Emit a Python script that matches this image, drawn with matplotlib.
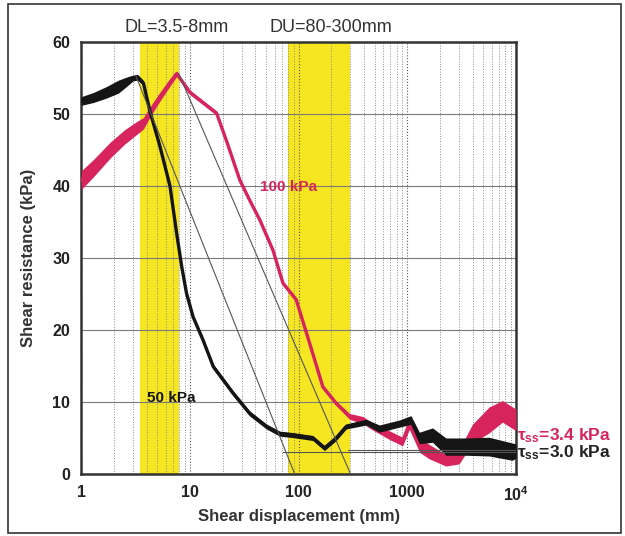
import numpy as np
import matplotlib
matplotlib.use("Agg")
import matplotlib.pyplot as plt
from matplotlib.patches import Rectangle

# posun (mm) a smykovy odpor (kPa) odectene z obrazku, pas = polovicni sirka sumu
x_100 = [1, 1.3, 1.85, 2.5, 3.2, 3.73, 4.3, 5.3, 6.5, 7.55, 8.5, 10, 12.4, 17.6,
         22, 28.8, 35.5, 43.9, 58, 71.8, 95, 126, 167, 222, 294, 387, 481, 684,
         906, 1043, 1300, 1592, 2265, 3000, 3970, 5650, 7500, 10000]
tau_100 = [40.8, 42.5, 45, 46.8, 48, 48.7, 50.3, 52.4, 54.3, 55.6, 54.5, 53,
           51.9, 50.1, 46, 40.8, 38, 35.3, 31.1, 26.5, 24.2, 18.2, 12.1, 9.8,
           8.0, 7.5, 6.6, 5.4, 4.5, 7.0, 4.0, 3.1, 1.9, 2.4, 5.6, 7.5, 8.7, 7.5]
band_100 = [1.3, 1.2, 1.1, 1.0, 0.9, 0.8, 0.7, 0.6, 0.5, 0.4, 0.3, 0.3, 0.3, 0.3,
            0.3, 0.3, 0.3, 0.3, 0.3, 0.3, 0.3, 0.3, 0.3, 0.3, 0.4, 0.5, 0.5, 0.6,
            0.6, 0.8, 1.0, 1.0, 0.8, 1.0, 1.3, 1.8, 1.5, 1.5]

x_50 = [1, 1.3, 1.7, 2.2, 2.7, 3.0, 3.3, 3.73, 4.3, 5.3, 6.55, 7.55, 8.4, 9.3,
        10.7, 13.2, 16.4, 25, 35.5, 50.5, 67, 88.7, 135, 173, 222, 274, 418,
        553, 845, 1081, 1290, 1707, 2265, 3450, 5650, 9250, 10000]
tau_50 = [51.8, 52.3, 53, 53.8, 54.6, 55, 55.1, 54.3, 50.3, 45.5, 40, 33.4,
          28.8, 25.1, 21.8, 18.6, 14.9, 11.2, 8.4, 6.6, 5.6, 5.4, 5.0, 3.6,
          5.0, 6.6, 7.2, 6.3, 7.0, 7.5, 5.0, 5.4, 3.8, 3.8, 3.8, 3.1, 3.2]
band_50 = [0.6, 0.7, 0.8, 0.9, 0.6, 0.4, 0.4, 0.35, 0.35, 0.35, 0.35, 0.35,
           0.35, 0.35, 0.35, 0.35, 0.35, 0.35, 0.35, 0.35, 0.35, 0.35, 0.35,
           0.35, 0.35, 0.35, 0.4, 0.5, 0.5, 0.6, 0.8, 1.0, 1.2, 1.2, 1.3, 1.2, 1.0]

# oblasti DL a DU (mm)
dl_range = [3.5, 8]
du_range = [80, 300]

# pomocne primky od vrcholu k nule a ustalene hodnoty
peak_line_50 = ([3.2, 92], [55.2, 0])
peak_line_100 = ([7.9, 300], [55.6, 0])
tau_ss_100 = 3.4
tau_ss_50 = 3.0
ss_start_100 = 285
ss_start_50 = 72

y_ticks = [0, 10, 20, 30, 40, 50, 60]
x_ticks = [1, 10, 100, 1000, 10000]
x_ticklabels = ["1", "10", "100", "1000", r"10$^{4}$"]

RED = "#d8245c"
BLACK = "#151515"
YELLOW = "#f6e622"


def plot_shear(fig_location="out.png"):
    plt.rcParams["font.family"] = ["Liberation Sans", "DejaVu Sans"]
    plt.rcParams["mathtext.fontset"] = "custom"
    plt.rcParams["mathtext.rm"] = "Liberation Sans:bold"
    plt.rcParams["mathtext.bf"] = "Liberation Sans:bold"
    plt.rcParams["mathtext.it"] = "Liberation Sans:bold"
    fig = plt.figure(figsize=(6.25, 5.36), dpi=100)
    ax = fig.add_axes([0.13, 0.1157, 0.6956, 0.806])

    # zlute pasy
    ax.axvspan(*dl_range, color=YELLOW, lw=0, zorder=0.2)
    ax.axvspan(*du_range, color=YELLOW, lw=0, zorder=0.2)

    # krivky (nejdriv 100 kPa, pak 50 kPa navrch)
    x1, y1, b1 = np.array(x_100), np.array(tau_100), np.array(band_100)
    ax.fill_between(x1, y1 - b1, y1 + b1, color=RED, lw=0, zorder=3)
    ax.plot(x1, y1, color=RED, lw=2.4, zorder=3)
    x2, y2, b2 = np.array(x_50), np.array(tau_50), np.array(band_50)
    ax.fill_between(x2, y2 - b2, y2 + b2, color=BLACK, lw=0, zorder=4)
    ax.plot(x2, y2, color=BLACK, lw=2.4, zorder=4)

    # tenke primky
    ax.plot(*peak_line_50, color="#555555", lw=0.8, zorder=5)
    ax.plot(*peak_line_100, color="#555555", lw=0.8, zorder=5)
    ax.plot([ss_start_100, 1e4], [tau_ss_100, tau_ss_100], color="#555555",
            lw=0.8, zorder=5)
    ax.plot([ss_start_50, 1e4], [tau_ss_50, tau_ss_50], color="#555555",
            lw=0.8, zorder=5)

    ax.set_xscale("log")
    ax.set_xlim(1, 1e4)
    ax.set_ylim(0, 60)
    ax.set_xticks(x_ticks)
    ax.set_xticklabels(x_ticklabels)
    ax.set_yticks(y_ticks)
    ax.tick_params(which="major", direction="in", length=0, pad=8,
                   labelsize=11.5, colors="#222222")
    ax.tick_params(which="minor", length=0)
    for lab in ax.get_xticklabels() + ax.get_yticklabels():
        lab.set_fontweight("bold")

    # mrizka
    ax.set_axisbelow(True)
    ax.grid(axis="y", which="major", color="#7a7a7a", lw=0.8, ls="-")
    ax.grid(axis="x", which="major", color="#5a5a5a", lw=0.8, ls=":")
    ax.grid(axis="x", which="minor", color="#8a8a8a", lw=0.7, ls=":")

    for sp in ax.spines.values():
        sp.set_color("#333333")
        sp.set_linewidth(1.8)

    ax.set_xlabel("Shear displacement (mm)", fontsize=12, fontweight="bold",
                  color="#333333", labelpad=4)
    ax.set_ylabel("Shear resistance (kPa)", fontsize=12, fontweight="bold",
                  color="#333333", labelpad=12)

    # popisky
    ax.text(44, 39.8, "100 kPa", color=RED, fontsize=11, fontweight="bold",
            va="center", zorder=6)
    ax.text(4.0, 10.5, "50 kPa", color=BLACK, fontsize=11, fontweight="bold",
            va="center", zorder=6)
    ax.text(1.03e4, 5.3, r"τ$_{ss}$=3.4 kPa", color=RED, fontsize=12.5,
            fontweight="bold", va="center", clip_on=False)
    ax.text(1.03e4, 2.9, r"τ$_{ss}$=3.0 kPa", color="#222222", fontsize=12.5,
            fontweight="bold", va="center", clip_on=False)
    fig.text(177 / 625, 1 - 27 / 536, "DL=3.5-8mm", ha="center", va="center",
             fontsize=13, color="#333333")
    fig.text(331 / 625, 1 - 27 / 536, "DU=80-300mm", ha="center", va="center",
             fontsize=13, color="#333333")

    # ramecek kolem celeho obrazku
    fig.patches.append(Rectangle((8 / 625, 3 / 536), 613 / 625, 529 / 536,
                                 transform=fig.transFigure, fill=False,
                                 ec="#333333", lw=1.2))

    fig.savefig(fig_location, dpi=100)
    plt.close(fig)


if __name__ == "__main__":
    plot_shear("out.png")
